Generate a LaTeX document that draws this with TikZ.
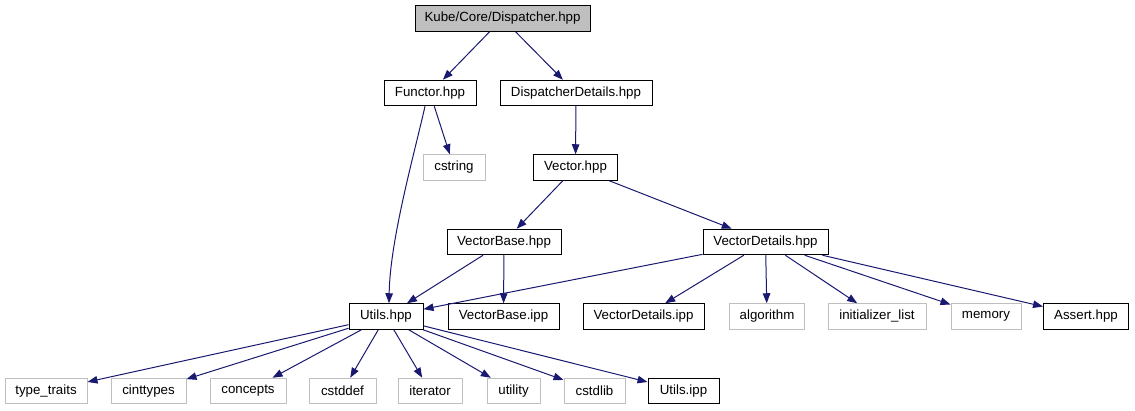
\documentclass[tikz,border=0pt]{standalone}
\usepackage{fontspec}
\setmainfont{Liberation Sans}
\usetikzlibrary{arrows.meta}
\definecolor{edgeblue}{HTML}{191970}
\definecolor{sysgray}{HTML}{BFBFBF}
\definecolor{rootfill}{HTML}{BFBFBF}
\tikzset{
  box/.style={draw=black, line width=1pt, minimum height=25.5pt, inner sep=0pt, font=\fontsize{13.3}{15}\selectfont, fill=white},
  sysbox/.style={box, draw=sysgray},
  rootbox/.style={box, fill=rootfill},
  edge/.style={draw=edgeblue, line width=1pt, -{Triangle[length=10pt,width=7.5pt]}}
}
\begin{document}
\begin{tikzpicture}[x=1pt,y=-1pt]
\useasboundingbox (0,0) rectangle (1135,411);
% row 1
\node[rootbox, minimum width=175pt] (disp) at (502.5,18.5) {Kube/Core/Dispatcher.hpp};
% row 2
\node[box, minimum width=92pt] (functor) at (430,93) {Functor.hpp};
\node[box, minimum width=152pt] (dd) at (576,93) {DispatcherDetails.hpp};
% row 3
\node[sysbox, minimum width=62pt] (cstring) at (454,167.5) {cstring};
\node[box, minimum width=84pt] (vector) at (575.5,167.5) {Vector.hpp};
% row 4
\node[box, minimum width=114pt] (vbase) at (504,242) {VectorBase.hpp};
\node[box, minimum width=125pt] (vdet) at (765.5,242) {VectorDetails.hpp};
% row 5
\node[box, minimum width=74pt] (utils) at (386,316.5) {Utils.hpp};
\node[box, minimum width=111pt] (vbipp) at (503.5,316.5) {VectorBase.ipp};
\node[box, minimum width=121pt] (vdipp) at (643.5,316.5) {VectorDetails.ipp};
\node[sysbox, minimum width=75pt] (algo) at (767,316.5) {algorithm};
\node[sysbox, minimum width=98pt] (init) at (877,316.5) {initializer\_list};
\node[sysbox, minimum width=70pt] (memory) at (986,316.5) {memory};
\node[box, minimum width=85pt] (assert) at (1086,316.5) {Assert.hpp};
% row 6
\node[sysbox, minimum width=82pt] (tt) at (46,391) {type\_traits};
\node[sysbox, minimum width=75pt] (cint) at (148.5,391) {cinttypes};
\node[sysbox, minimum width=76pt] (concepts) at (248,391) {concepts};
\node[sysbox, minimum width=67pt] (cstddef) at (342.5,391) {cstddef};
\node[sysbox, minimum width=64pt] (iter) at (430,391) {iterator};
\node[sysbox, minimum width=53pt] (utility) at (513.5,391) {utility};
\node[sysbox, minimum width=61pt] (cstdlib) at (594.5,391) {cstdlib};
\node[box, minimum width=71pt] (uipp) at (683.5,391) {Utils.ipp};
% edges
\draw[edge] (disp) -- (functor);
\draw[edge] (disp) -- (dd);
\draw[edge] (functor) -- (cstring);
\draw[edge] ([xshift=-5pt]functor.south) .. controls +(-10,45) and +(1,-64) .. ([xshift=3pt]utils.north);
\draw[edge] (dd) -- (vector);
\draw[edge] (vector) -- (vbase);
\draw[edge] (vector) -- (vdet);
\draw[edge] (vbase) -- (utils);
\draw[edge] (vbase) -- (vbipp);
\draw[edge] (vdet) -- (utils);
\draw[edge] (vdet) -- (vdipp);
\draw[edge] (vdet) -- (algo);
\draw[edge] (vdet) -- (init);
\draw[edge] (vdet) -- (memory);
\draw[edge] (vdet) -- (assert);
\draw[edge] (utils) -- (tt);
\draw[edge] (utils) -- (cint);
\draw[edge] (utils) -- (concepts);
\draw[edge] (utils) -- (cstddef);
\draw[edge] (utils) -- (iter);
\draw[edge] (utils) -- (utility);
\draw[edge] (utils) -- (cstdlib);
\draw[edge] (utils) -- (uipp);
\end{tikzpicture}
\end{document}
